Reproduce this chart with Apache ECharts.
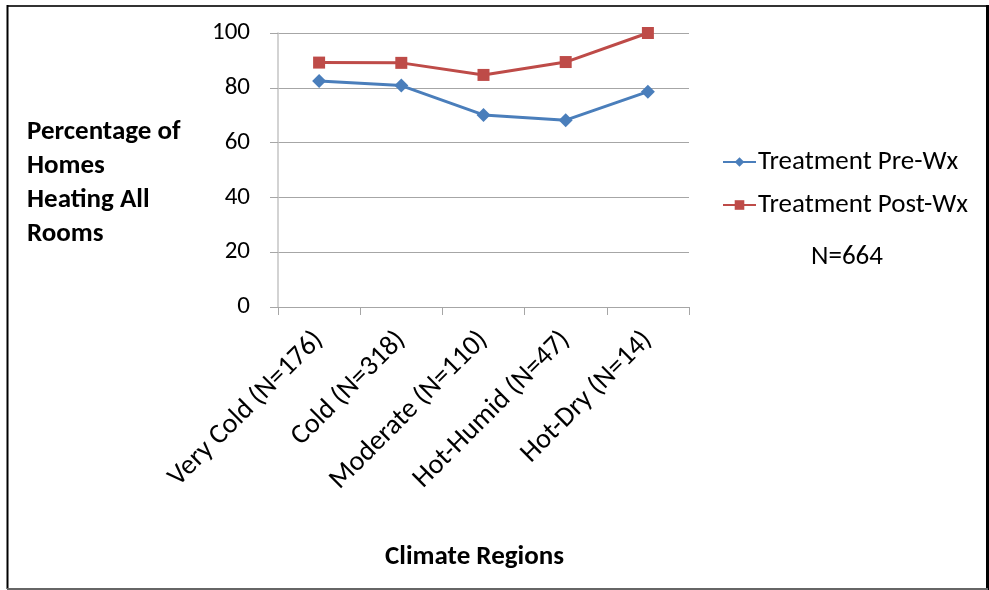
<!DOCTYPE html>
<html>
<head>
<meta charset="utf-8">
<script src="https://cdn.jsdelivr.net/npm/echarts@6/dist/echarts.min.js"></script>
<style>
  html, body { margin: 0; padding: 0; background: #fff; }
  #chart { width: 989px; height: 590px; }
</style>
</head>
<body>
<div id="chart"></div>
<script>
// Climate regions on the category axis
const categories = [
  'Very Cold (N=176)',
  'Cold (N=318)',
  'Moderate (N=110)',
  'Hot-Humid (N=47)',
  'Hot-Dry (N=14)'
];

// Percentage of homes heating all rooms, before and after weatherization
const preWx = [82.5, 80.8, 70.1, 68.2, 78.6];
const postWx = [89.2, 89.1, 84.7, 89.4, 100];

const yTicks = { min: 0, max: 100, interval: 20 };

const FONT = 'Carlito, Lato, "Open Sans", sans-serif';
const BLUE = '#4a7ebb';
const RED = '#be4b48';
const AXIS_GREY = '#a6a6a6';

const chart = echarts.init(document.getElementById('chart'), null, { renderer: 'canvas' });

chart.setOption({
  backgroundColor: '#ffffff',
  animation: false,
  grid: { left: 278, right: 300, top: 33, bottom: 283, containLabel: false },
  xAxis: {
    type: 'category',
    data: categories,
    boundaryGap: true,
    axisLine: { lineStyle: { color: AXIS_GREY, width: 1 } },
    axisTick: { show: true, length: 8, interval: 0, lineStyle: { color: AXIS_GREY } },
    axisLabel: {
      interval: 0,
      rotate: 45,
      margin: 29,
      color: '#000',
      fontFamily: FONT,
      fontSize: 28
    },
    splitLine: { show: false }
  },
  yAxis: {
    type: 'value',
    min: yTicks.min,
    max: yTicks.max,
    interval: yTicks.interval,
    axisLine: { show: true, lineStyle: { color: '#c4c4c4', width: 1.5 } },
    axisTick: { show: true, length: 8, lineStyle: { color: AXIS_GREY } },
    axisLabel: {
      color: '#000',
      fontFamily: FONT,
      fontSize: 25,
      margin: 28
    },
    splitLine: { show: true, lineStyle: { color: AXIS_GREY, width: 1 } }
  },
  legend: {
    orient: 'vertical',
    left: 717,
    top: 142,
    itemWidth: 33,
    itemHeight: 12,
    itemGap: 13,
    textStyle: { color: '#000', fontFamily: FONT, fontSize: 27, lineHeight: 30, padding: [0, 0, 0, -3] },
    data: ['Treatment Pre-Wx', 'Treatment Post-Wx']
  },
  series: [
    {
      name: 'Treatment Pre-Wx',
      type: 'line',
      data: preWx,
      symbol: 'diamond',
      symbolSize: 14,
      itemStyle: { color: BLUE },
      lineStyle: { color: BLUE, width: 3 }
    },
    {
      name: 'Treatment Post-Wx',
      type: 'line',
      data: postWx,
      symbol: 'rect',
      symbolSize: 12,
      itemStyle: { color: RED },
      lineStyle: { color: RED, width: 3 }
    }
  ],
  graphic: [
    // frame around the chart
    { type: 'line', shape: { x1: 7, y1: 6, x2: 988, y2: 6 }, style: { stroke: '#333', lineWidth: 2 }, silent: true },
    { type: 'line', shape: { x1: 7.5, y1: 5, x2: 7.5, y2: 589 }, style: { stroke: '#000', lineWidth: 2 }, silent: true },
    { type: 'line', shape: { x1: 987.5, y1: 5, x2: 987.5, y2: 590 }, style: { stroke: '#000', lineWidth: 3 }, silent: true },
    { type: 'line', shape: { x1: 7, y1: 589, x2: 988, y2: 589 }, style: { stroke: '#666', lineWidth: 2 }, silent: true },
    {
      type: 'text',
      left: 27,
      top: 115,
      style: {
        text: 'Percentage of\nHomes\nHeating All\nRooms',
        fill: '#000',
        font: 'bold 27px ' + FONT,
        lineHeight: 34
      }
    },
    {
      type: 'text',
      left: 811,
      top: 244,
      style: { text: 'N=664', fill: '#000', font: '27px ' + FONT }
    },
    {
      type: 'text',
      left: 385,
      top: 544,
      style: { text: 'Climate Regions', fill: '#000', font: 'bold 27px ' + FONT }
    }
  ]
});
</script>
</body>
</html>
